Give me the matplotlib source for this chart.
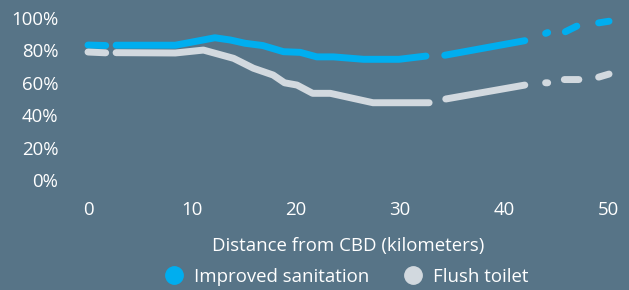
import numpy as np
import matplotlib
matplotlib.use("Agg")
import matplotlib.pyplot as plt
from matplotlib.lines import Line2D

nan = np.nan
# Distance from CBD (km); NaN marks breaks in the series
improved_x = [0, 1.7, nan, 2.7, 8.4, 12.2, 13.7, 15.1, 16.8, 18.8, 20.4, 22.0, 23.6, 26.5, 29.9, 32.5,
              nan, 34.3, 42.0, nan, 44.0, 44.2, nan, 45.9, 47.0, nan, 49.1, 50.1]
improved_y = [83.3, 83.0, nan, 83.2, 83.2, 87.8, 86.4, 84.4, 83.0, 79.2, 78.8, 76.0, 76.0, 74.5, 74.5, 76.5,
              nan, 77.0, 86.0, nan, 90.5, 91.0, nan, 91.5, 95.0, nan, 97.0, 98.0]
flush_x = [0, 1.7, nan, 2.7, 8.4, 11.1, 14.0, 15.9, 17.8, 18.9, 20.1, 21.6, 23.3, 27.4, 32.8,
           nan, 34.4, 42.0, nan, 44.0, 44.2, nan, 45.8, 47.2, nan, 49.1, 50.1]
flush_y = [79.0, 78.5, nan, 78.6, 78.4, 80.2, 75.1, 69.0, 64.8, 60.0, 58.6, 53.5, 53.5, 47.7, 47.7,
           nan, 50.0, 58.6, nan, 60.0, 60.0, nan, 62.0, 62.0, nan, 63.5, 65.4]

x_ticks = [0, 10, 20, 30, 40, 50]
y_ticks = [0, 20, 40, 60, 80, 100]
y_tick_labels = ["0%", "20%", "40%", "60%", "80%", "100%"]
series_names = ["Improved sanitation", "Flush toilet"]

BG = "#577487"
BLUE = "#00AEEF"
GREY = "#D2D9DF"
TXT = "#FFFFFF"
FS = 13.4

plt.rcParams['font.family'] = ['Open Sans', 'DejaVu Sans']

W, H = 629, 290
fig = plt.figure(figsize=(W / 100, H / 100), dpi=100, facecolor=BG)
x0, x1 = 88, 608
ytop, ybot = 18, 180
ax = fig.add_axes([x0 / W, 1 - ybot / H, (x1 - x0) / W, (ybot - ytop) / H])
ax.set_facecolor(BG)
ax.set_xlim(0, 50)
ax.set_ylim(0, 100)

ax.plot(improved_x, improved_y, color=BLUE, lw=5, solid_capstyle='round', solid_joinstyle='round', clip_on=False)
ax.plot(flush_x, flush_y, color=GREY, lw=5, solid_capstyle='round', solid_joinstyle='round', clip_on=False)

for s in ax.spines.values():
    s.set_visible(False)
ax.set_xticks(x_ticks)
ax.set_yticks(y_ticks)
ax.set_yticklabels(y_tick_labels)
ax.tick_params(axis='both', length=0, colors=TXT, labelsize=FS)
ax.tick_params(axis='y', pad=21.5)
ax.tick_params(axis='x', pad=15)
ax.set_xlabel("Distance from CBD (kilometers)", color=TXT, fontsize=FS, labelpad=13)

handles = [Line2D([], [], ls='none', marker='o', markersize=12.5, markerfacecolor=c, markeredgecolor=c)
           for c in (BLUE, GREY)]
fig.legend(handles, series_names, loc='center', bbox_to_anchor=(0.551, 1 - 277 / H), ncol=2,
           frameon=False, fontsize=FS, labelcolor=TXT, handletextpad=0.6, columnspacing=1.85,
           handlelength=1.0, borderpad=0, borderaxespad=0)

fig.savefig("out.png", dpi=100, facecolor=BG)
